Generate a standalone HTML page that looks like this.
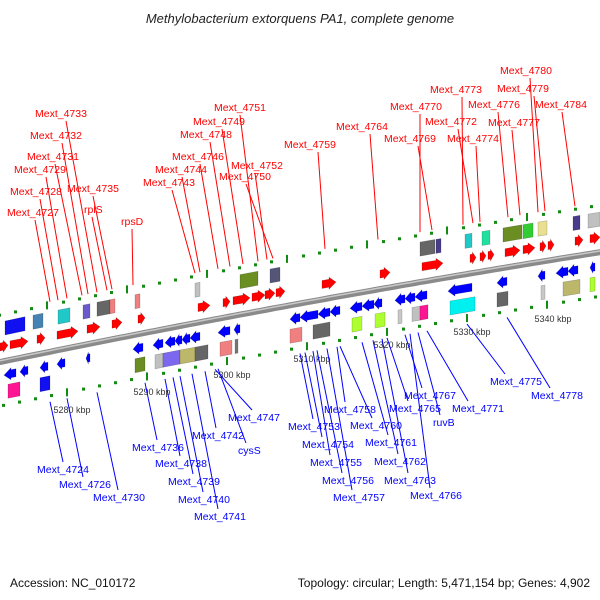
<!DOCTYPE html>
<html><head><meta charset="utf-8"><style>
html,body{margin:0;padding:0;background:#fff;}
svg{display:block;font-family:"Liberation Sans","DejaVu Sans",sans-serif;}
</style></head><body>
<svg id="map" width="600" height="600" viewBox="0 0 600 600">
<text x="300" y="23" text-anchor="middle" font-size="13" font-style="italic" fill="#222">Methylobacterium extorquens PA1, complete genome</text>
<g id="dots"></g>
<g id="lines"></g>
<path id="axis" fill="none" stroke="#8a8a8a" stroke-width="6"></path>
<path id="axis2" fill="none" stroke="#c8c8c8" stroke-width="1.5"></path>
<g id="feats"></g>
<g id="labels"></g>
<text x="10" y="587" font-size="12" fill="#111">Accession: NC_010172</text>
<text x="590" y="587" font-size="12" fill="#111" text-anchor="end">Topology: circular; Length: 5,471,154 bp; Genes: 4,902</text>
</svg>
<script>
const kbpTicks = [5280, 5290, 5300, 5310, 5320, 5330, 5340];
const kbpX = [72, 152, 232, 312, 392, 472, 553];
const kbpY = [413, 395, 378, 362, 348, 335, 322];
// features: start x, end x, lane (-2 red box, -1 red arrow, 1 blue arrow, 2 blue box), colour
const featStart = [0,10,37,57,87,112,138,198,223,233,252,265,276,322,380,422,470,480,488,505,523,540,548,575,590,
 5,33,58,83,97,110,135,195,240,270,420,436,465,482,503,523,538,573,588,
 4,20,40,57,86,133,153,165,175,182,190,218,234,290,300,318,330,350,362,374,395,405,415,448,497,538,556,568,590,
 8,40,135,155,163,180,195,220,235,290,313,352,375,398,412,420,450,497,541,563,590];
const featEnd = [8,28,45,78,100,122,145,210,230,250,265,275,285,336,390,443,476,486,494,520,535,546,554,583,600,
 25,43,70,90,110,115,140,200,258,280,435,441,472,490,522,533,547,580,600,
 16,28,48,65,90,143,163,175,182,190,200,230,240,300,318,330,340,362,374,382,405,415,427,472,507,545,568,578,595,
 20,50,145,163,180,195,208,232,238,302,330,362,385,402,420,428,475,508,545,580,595];
const featLane = [-1,-1,-1,-1,-1,-1,-1,-1,-1,-1,-1,-1,-1,-1,-1,-1,-1,-1,-1,-1,-1,-1,-1,-1,-1,
 -2,-2,-2,-2,-2,-2,-2,-2,-2,-2,-2,-2,-2,-2,-2,-2,-2,-2,-2,
 1,1,1,1,1,1,1,1,1,1,1,1,1,1,1,1,1,1,1,1,1,1,1,1,1,1,1,1,1,
 2,2,2,2,2,2,2,2,2,2,2,2,2,2,2,2,2,2,2,2,2];
const featColor = ["r","r","r","r","r","r","r","r","r","r","r","r","r","r","r","r","r","r","r","r","r","r","r","r","r",
 "#1010f0","#4682b4","#20c8c8","#6a5acd","#666666","#f08080","#f08080","#c0c0c0","#6b8e23","#555577","#666666","#483d8b","#20c8c8","#20e0a0","#6b8e23","#32cd32","#e8e090","#483d8b","#c0c0c0",
 "b","b","b","b","b","b","b","b","b","b","b","b","b","b","b","b","b","b","b","b","b","b","b","b","b","b","b","b","b",
 "#ff1493","#1010f0","#6b8e23","#c0c0c0","#7b68ee","#bdb76b","#666666","#f08080","#777777","#f08080","#666666","#adff2f","#adff2f","#c8c8c8","#c0c0c0","#ff1493","#00f0f0","#666666","#c8c8c8","#bdb76b","#adff2f"];
// labels
const redNames = ["Mext_4727","Mext_4728","Mext_4729","Mext_4731","Mext_4732","Mext_4733","Mext_4735","rplS","rpsD","Mext_4743","Mext_4744","Mext_4746","Mext_4748","Mext_4749","Mext_4751","Mext_4752","Mext_4750","Mext_4759","Mext_4764","Mext_4769","Mext_4770","Mext_4773","Mext_4772","Mext_4774","Mext_4776","Mext_4777","Mext_4780","Mext_4779","Mext_4784"];
const redLabelX = [7,10,14,27,30,35,67,84,121,143,155,172,180,193,214,231,219,284,336,384,390,430,425,447,468,488,500,497,535];
const redLabelY = [216,195,173,160,139,117,192,213,225,186,173,160,138,125,111,169,180,148,130,142,110,93,125,142,108,126,74,92,108];
const redLineX = [35,40,46,55,62,66,93,92,132,172,182,200,210,222,240,255,246,318,370,418,420,462,458,476,498,512,530,534,562];
const redFeatX = [50,58,67,82,88,97,112,107,133,195,200,218,230,243,258,267,273,325,378,432,420,463,473,480,508,520,538,545,575];
const blueNames = ["Mext_4724","Mext_4726","Mext_4730","Mext_4736","Mext_4738","Mext_4739","Mext_4740","Mext_4741","Mext_4742","cysS","Mext_4747","Mext_4753","Mext_4754","Mext_4755","Mext_4756","Mext_4757","Mext_4758","Mext_4760","Mext_4761","Mext_4762","Mext_4763","Mext_4765","Mext_4767","ruvB","Mext_4766","Mext_4771","Mext_4775","Mext_4778"];
const blueLabelX = [37,59,93,132,155,168,178,194,192,238,228,288,302,310,322,333,324,350,365,374,384,389,404,433,410,452,490,531];
const blueLabelY = [473,488,501,451,467,485,503,520,439,454,421,430,448,466,484,501,413,429,446,465,484,412,399,426,499,412,385,399];
const blueLineX = [63,83,118,157,180,193,203,218,216,246,252,313,322,330,342,352,345,372,388,398,408,408,422,440,430,468,505,550];
const blueFeatX = [50,67,97,145,165,173,180,192,205,218,215,300,305,313,317,327,337,340,362,373,382,387,405,418,410,427,467,507];
</script>
<script>
const NS = "http://www.w3.org/2000/svg";
function axisY(x){ return 362 - 0.207*x + 0.00004*x*x; }
function mk(tag, attrs, parent){ const e=document.createElementNS(NS,tag); for(const k in attrs) e.setAttribute(k,attrs[k]); parent.appendChild(e); return e; }
// axis
let d=""; for(let x=-5;x<=605;x+=5){ d+=(x===-5?"M":"L")+x+","+axisY(x).toFixed(1); }
document.getElementById("axis").setAttribute("d",d);
let d2=""; for(let x=-5;x<=605;x+=5){ d2+=(x===-5?"M":"L")+x+","+(axisY(x)-1.2).toFixed(1); }
document.getElementById("axis2").setAttribute("d",d2);
// dots
const dots=document.getElementById("dots");
for(let x=-1;x<=600;x+=16){
  const major = ((x-47)%80+80)%80===0;
  const ry = axisY(x)-47;
  const e = mk("rect",{x:x-1,y:major?ry-4:ry-1.5,width:major?2:3,height:major?8:3,fill:"#138a13"},dots);
  
  
}
for(let x=3;x<=600;x+=16){
  const major = ((x-67)%80+80)%80===0;
  const ry = axisY(x)+44;
  const e = mk("rect",{x:x-1,y:major?ry-4:ry-1.5,width:major?2:3,height:major?8:3,fill:"#138a13"},dots);
  
  
}
kbpTicks.forEach((k,i)=>{
  const t=mk("text",{x:kbpX[i],y:kbpY[i],"font-size":"9","text-anchor":"middle",fill:"#333"},dots);
  t.textContent=k+" kbp";
  
  
});
// features
const feats=document.getElementById("feats");
const laneOff={"-2":-33,"-1":-15,"1":14,"2":31};
for(let i=0;i<featStart.length;i++){
  const x1=featStart[i], x2=featEnd[i], lane=featLane[i], off=laneOff[lane];
  const h = Math.abs(lane)===2?14:12;
  let pts;
  const y=(x)=>axisY(x)+off;
  let fill=featColor[i];
  if(Math.abs(lane)===1){
    const len=x2-x1, head=Math.min(7,len*0.6);
    if(lane===-1){
      fill="#ff0000";
      pts=[[x1,y(x1)-h/2+2],[x2-head,y(x2-head)-h/2+2],[x2-head,y(x2-head)-h/2],[x2,y(x2)],[x2-head,y(x2-head)+h/2],[x2-head,y(x2-head)+h/2-2],[x1,y(x1)+h/2-2]];
    } else {
      fill="#0000ff";
      pts=[[x2,y(x2)-h/2+2],[x1+head,y(x1+head)-h/2+2],[x1+head,y(x1+head)-h/2],[x1,y(x1)],[x1+head,y(x1+head)+h/2],[x1+head,y(x1+head)+h/2-2],[x2,y(x2)+h/2-2]];
    }
  } else {
    pts=[[x1,y(x1)-h/2],[x2,y(x2)-h/2],[x2,y(x2)+h/2],[x1,y(x1)+h/2]];
  }
  const p=mk("polygon",{points:pts.map(q=>q[0].toFixed(1)+","+q[1].toFixed(1)).join(" "),fill:fill,stroke:"rgba(0,0,0,0.25)","stroke-width":"0.6"},feats);
  
  
}
// labels + lines
const lines=document.getElementById("lines"), labels=document.getElementById("labels");
redNames.forEach((n,i)=>{
  const fx=redFeatX[i];
  const l=mk("line",{x1:redLineX[i],y1:redLabelY[i]+4,x2:fx,y2:axisY(fx)-50,stroke:"#ff0000","stroke-width":"1"},lines);
  
  
  const t=mk("text",{x:redLabelX[i],y:redLabelY[i],"font-size":"10.5",fill:"#ff0000"},labels);
  t.textContent=n;
  
  
});
blueNames.forEach((n,i)=>{
  const fx=blueFeatX[i];
  const l=mk("line",{x1:fx,y1:axisY(fx)+50,x2:blueLineX[i],y2:blueLabelY[i]-11,stroke:"#0000ff","stroke-width":"1"},lines);
  
  
  const t=mk("text",{x:blueLabelX[i],y:blueLabelY[i],"font-size":"10.5",fill:"#0000ff"},labels);
  t.textContent=n;
  
  
});
</script>
</body></html>
